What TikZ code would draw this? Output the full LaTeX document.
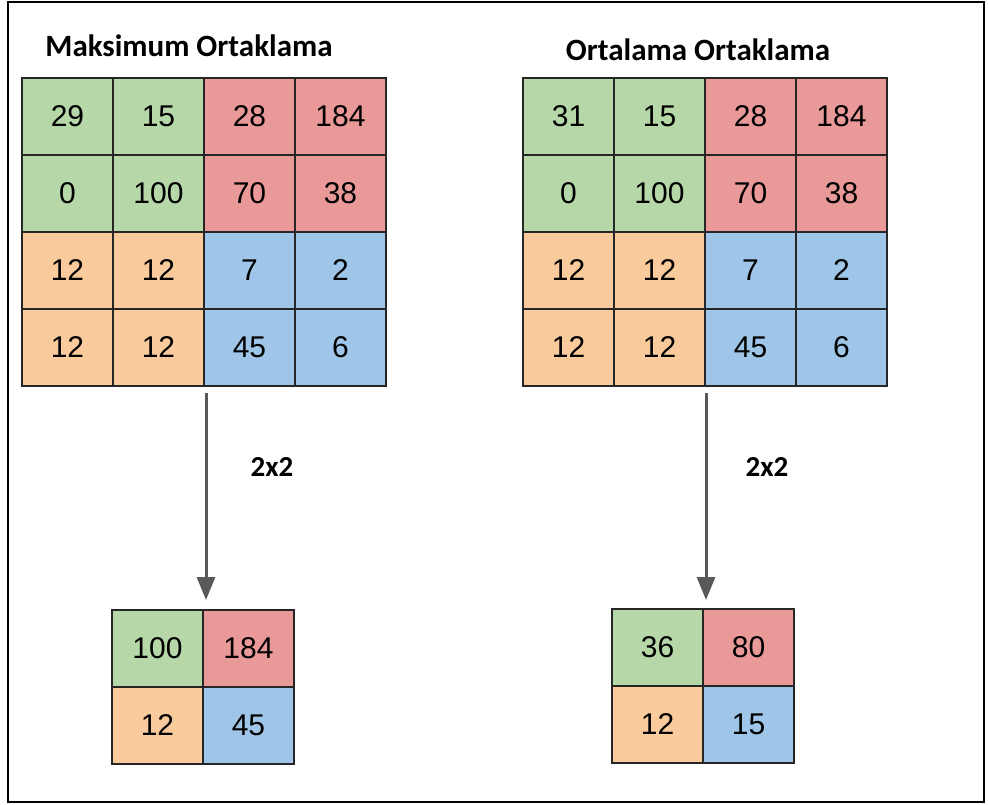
\documentclass[tikz,border=0pt]{standalone}
\usepackage{fontspec}
\usepackage{xcolor}
\usetikzlibrary{positioning,arrows.meta}

\newfontfamily\cellfont{Liberation Sans}
\newfontfamily\headfont{Carlito}

\definecolor{poolgreen}{HTML}{B6D7A8}
\definecolor{poolred}{HTML}{EA9999}
\definecolor{poolorange}{HTML}{F9CB9C}
\definecolor{poolblue}{HTML}{9FC5E8}

\begin{document}
\begin{tikzpicture}[x=1pt, y=-1pt, node distance=0pt,
    cell/.style={draw=black!85, line width=1.6pt, minimum width=91pt, minimum height=77pt,
        inner sep=0pt, outer sep=0pt, font=\cellfont\fontsize{30}{32}\selectfont},
    gcell/.style={cell, fill=poolgreen},
    rcell/.style={cell, fill=poolred},
    ocell/.style={cell, fill=poolorange},
    bcell/.style={cell, fill=poolblue},
    head/.style={font=\headfont\bfseries\fontsize{31}{34}\selectfont},
    size/.style={font=\headfont\bfseries\fontsize{29}{32}\selectfont},
    pool/.style={draw=black!65, line width=3pt, -{Triangle[length=23pt,width=18pt]}}]
    \useasboundingbox (0,0) rectangle (988,805);
    \draw[line width=1.5pt] (8,2) rectangle (984,802);

    % max pooling
    \node[head] (mxtitle) at (189,46) {Maksimum Ortaklama};
    \node[gcell, anchor=north west] (mx11) at (22,78) {29};
    \node[gcell, right=of mx11] (mx12) {15};
    \node[rcell, right=of mx12] (mx13) {28};
    \node[rcell, right=of mx13] (mx14) {184};
    \node[gcell, below=of mx11] (mx21) {0};
    \node[gcell, right=of mx21] (mx22) {100};
    \node[rcell, right=of mx22] (mx23) {70};
    \node[rcell, right=of mx23] (mx24) {38};
    \node[ocell, below=of mx21] (mx31) {12};
    \node[ocell, right=of mx31] (mx32) {12};
    \node[bcell, right=of mx32] (mx33) {7};
    \node[bcell, right=of mx33] (mx34) {2};
    \node[ocell, below=of mx31] (mx41) {12};
    \node[ocell, right=of mx41] (mx42) {12};
    \node[bcell, right=of mx42] (mx43) {45};
    \node[bcell, right=of mx43] (mx44) {6};

    \node[gcell, anchor=north west] (mxo11) at (112,610) {100};
    \node[rcell, right=of mxo11] (mxo12) {184};
    \node[ocell, below=of mxo11] (mxo21) {12};
    \node[bcell, right=of mxo21] (mxo22) {45};

    \node[size] (mxsize) at (272,467) {2x2};
    \draw[pool] ([xshift=2pt,yshift=-7pt]mx43.south west) -- ([xshift=3pt,yshift=10pt]mxo11.north east);

    % average pooling
    \node[head] (avtitle) at (698,50) {Ortalama Ortaklama};
    \node[gcell, anchor=north west] (av11) at (523,78) {31};
    \node[gcell, right=of av11] (av12) {15};
    \node[rcell, right=of av12] (av13) {28};
    \node[rcell, right=of av13] (av14) {184};
    \node[gcell, below=of av11] (av21) {0};
    \node[gcell, right=of av21] (av22) {100};
    \node[rcell, right=of av22] (av23) {70};
    \node[rcell, right=of av23] (av24) {38};
    \node[ocell, below=of av21] (av31) {12};
    \node[ocell, right=of av31] (av32) {12};
    \node[bcell, right=of av32] (av33) {7};
    \node[bcell, right=of av33] (av34) {2};
    \node[ocell, below=of av31] (av41) {12};
    \node[ocell, right=of av41] (av42) {12};
    \node[bcell, right=of av42] (av43) {45};
    \node[bcell, right=of av43] (av44) {6};

    \node[gcell, anchor=north west] (avo11) at (612,609) {36};
    \node[rcell, right=of avo11] (avo12) {80};
    \node[ocell, below=of avo11] (avo21) {12};
    \node[bcell, right=of avo21] (avo22) {15};

    \node[size] (avsize) at (767,467) {2x2};
    \draw[pool] ([xshift=1pt,yshift=-7pt]av43.south west) -- ([xshift=3pt,yshift=9pt]avo11.north east);
\end{tikzpicture}
\end{document}
